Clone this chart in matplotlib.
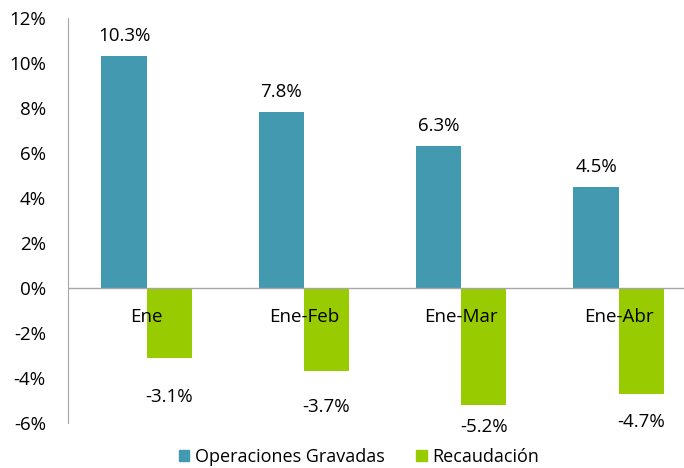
import matplotlib.pyplot as plt
import numpy as np
from matplotlib.patches import Patch

categories = ['Ene', 'Ene-Feb', 'Ene-Mar', 'Ene-Abr']
operaciones = [10.3, 7.8, 6.3, 4.5]
recaudacion = [-3.1, -3.7, -5.2, -4.7]
y_ticks = [-6, -4, -2, 0, 2, 4, 6, 8, 10, 12]

blue = '#4299b0'
green = '#99cc00'
font = 'Open Sans'
fs = 13.5

plt.rcParams['font.family'] = [font, 'DejaVu Sans']

fig = plt.figure(figsize=(6.84, 4.68), dpi=100)
ax = fig.add_axes([0.0994, 0.0962, 0.92, 0.8654])

x = np.arange(len(categories))
w = 0.287
ax.bar(x - w / 2, operaciones, w, color=blue, label='Operaciones Gravadas')
ax.bar(x + w / 2, recaudacion, w, color=green, label='Recaudación')

ax.set_xlim(-0.5, 3.5)
ax.set_ylim(-6, 12)

for spine in ['top', 'right', 'bottom']:
    ax.spines[spine].set_visible(False)
ax.spines['left'].set_color('#a6a6a6')
ax.axhline(0, color='#a6a6a6', lw=1, zorder=3)

ax.set_xticks([])
ax.set_yticks(y_ticks)
ax.set_yticklabels([f'{t}%' for t in y_ticks])
ax.tick_params(axis='y', length=0, pad=16, labelsize=fs)

# category labels sit just under the zero line
for i, c in enumerate(categories):
    ax.text(i, -1.28, c, ha='center', va='center', fontsize=fs, zorder=4)

# value labels
for i, v in enumerate(operaciones):
    ax.annotate(f'{v}%', (i - w / 2, v), xytext=(0, 14.5), textcoords='offset points',
                ha='center', va='center', fontsize=fs)
neg_offsets = [-28, -26, -16, -20]
for i, v in enumerate(recaudacion):
    ax.annotate(f'{v}%', (i + w / 2, v), xytext=(0, neg_offsets[i]), textcoords='offset points',
                ha='center', va='center', fontsize=fs)

handles = [Patch(color=blue), Patch(color=green)]
fig.legend(handles, ['Operaciones Gravadas', 'Recaudación'], loc='center',
           bbox_to_anchor=(0.525, 0.024), ncol=2, frameon=False, fontsize=13,
           handlelength=0.6, handleheight=0.6, handletextpad=0.33, columnspacing=1.7,
           borderpad=0, borderaxespad=0)

fig.savefig('out.png', dpi=100)
